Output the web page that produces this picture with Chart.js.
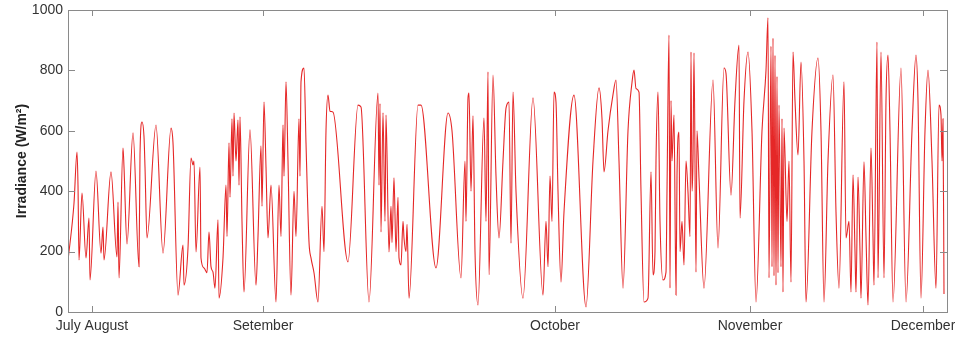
<!DOCTYPE html>
<html>
<head>
<meta charset="utf-8">
<script src="https://cdn.jsdelivr.net/npm/chart.js@4.4.1/dist/chart.umd.min.js"></script>
<style>
  html, body { margin: 0; padding: 0; background: #fff; }
  #wrap { width: 955px; height: 340px; }
</style>
</head>
<body>
<div id="wrap"><canvas id="Chart" width="955" height="340"></canvas></div>
<script>
// time axis in days from start of record, irradiance in W/m2
var days = [
  0.0, 0.6, 0.9, 1.0, 1.1, 1.4, 1.8, 2.1, 2.2, 2.8, 3.3, 3.5, 3.6, 4.3, 4.9, 5.0, 5.1, 5.5, 5.6, 5.9,
  6.5, 7.1, 7.2, 7.4, 7.6, 7.7, 7.9, 8.8, 9.5, 10.3, 10.5, 11.0, 11.5, 11.6, 12.0, 12.3, 12.5, 12.6, 12.8, 13.2,
  13.3, 13.6, 13.9, 14.1, 14.3, 14.5, 14.7, 15.0, 15.1, 15.5, 15.8, 15.9, 16.1, 16.2, 16.4, 16.5, 16.6, 16.8, 17.0, 17.1,
  17.2, 17.4, 17.6, 18.2, 18.8, 19.0, 19.3, 19.4, 19.6, 19.8, 20.0, 20.3, 20.8, 21.1, 21.3, 21.5, 21.6, 21.8, 22.0, 22.3,
  22.6, 22.8, 23.1, 23.2, 23.3, 23.6, 23.8, 24.1, 24.3, 24.6, 25.0, 25.4, 25.6, 25.8, 26.0, 26.2, 26.5, 28.0, 29.0, 29.3,
  30.1, 31.0, 31.1, 31.2, 31.3, 31.5, 31.7, 31.8, 32.1, 32.3, 32.4, 32.6, 32.8, 33.0, 33.1, 33.3, 33.5, 33.6, 33.8, 33.9,
  34.1, 35.0, 35.3, 36.8, 38.0, 38.4, 39.3, 39.7, 39.8, 40.0, 40.1, 40.3, 40.5, 40.7, 41.0, 41.6, 41.8, 42.0, 42.1, 42.5,
  42.8, 43.1, 43.5, 43.8, 44.1, 44.3, 44.5, 44.8, 45.5, 46.5, 47.5, 47.8, 48.0, 48.2, 48.4, 48.6, 48.8, 49.0, 49.3, 49.6,
  50.6, 51.8, 52.5, 53.1, 53.4, 53.6, 54.0, 54.5, 54.8, 55.1, 55.5, 56.0, 56.4, 56.6, 56.8, 57.1, 57.3, 57.6, 58.0, 58.3,
  58.5, 58.7, 58.8, 59.0, 59.2, 59.5, 59.8, 59.9, 60.1, 60.2, 60.3, 60.4, 60.6, 60.8, 60.9, 61.1, 61.2, 61.4, 61.6, 61.8,
  62.0, 62.2, 62.3, 62.4, 62.5, 62.6, 62.8, 62.9, 63.1, 63.6, 64.5, 65.0, 65.6, 65.8, 66.3, 66.7, 67.1, 67.2, 67.6, 68.0,
  68.4, 68.8, 69.4, 69.8, 70.0, 70.1, 70.3, 70.4, 70.5, 70.6, 70.7, 70.8, 70.9, 71.0, 71.1, 71.3, 71.4, 71.5, 71.6, 71.9,
  72.1, 72.3, 72.5, 72.7, 73.0, 73.3, 73.6, 73.8, 74.4, 75.0, 75.3, 75.6, 76.0, 76.5, 76.8, 77.1, 77.6, 77.8, 78.1, 78.3,
  78.5, 78.7, 78.8, 79.0, 79.2, 79.3, 79.6, 79.8, 80.0, 80.3, 80.5, 80.6, 80.9, 81.0, 81.3, 81.6, 81.8, 82.0, 82.2, 82.5,
  83.3, 83.8, 84.4, 84.8, 85.0, 85.3, 85.7, 86.0, 86.4, 86.8, 87.1, 87.3, 87.4, 87.5, 87.6
];
var irradiance = [
  170, 360, 530, 420, 172, 394, 179, 311, 106, 467, 195, 281, 172, 464, 182, 364, 113, 543, 480, 225,
  593, 150, 520, 629, 580, 480, 245, 619, 195, 609, 560, 56, 222, 89, 212, 510, 487, 500, 199, 480,
  179, 146, 130, 265, 150, 132, 79, 305, 46, 179, 420, 250, 560, 380, 640, 450, 659, 500, 636, 420,
  646, 300, 66, 603, 89, 250, 550, 350, 695, 480, 245, 420, 33, 420, 250, 620, 450, 762, 500, 56,
  400, 250, 640, 450, 762, 808, 560, 232, 179, 130, 33, 350, 200, 600, 718, 665, 662, 166, 685, 679,
  33, 725, 420, 690, 265, 660, 300, 652, 199, 350, 230, 444, 200, 380, 180, 156, 300, 245, 200, 290,
  46, 685, 685, 146, 659, 600, 113, 500, 300, 709, 725, 400, 650, 200, 23, 642, 300, 795, 123, 785,
  450, 245, 500, 675, 695, 228, 728, 400, 46, 709, 56, 300, 150, 450, 300, 728, 695, 400, 99, 331,
  718, 17, 500, 742, 640, 464, 600, 720, 768, 500, 79, 600, 760, 801, 740, 728, 400, 33, 46, 464,
  123, 200, 500, 728, 300, 106, 132, 400, 917, 79, 700, 500, 652, 56, 450, 596, 200, 300, 156, 500,
  397, 250, 861, 400, 500, 858, 132, 600, 444, 79, 768, 212, 808, 790, 387, 700, 884, 311, 700, 861,
  600, 33, 600, 800, 974, 113, 880, 150, 907, 120, 850, 89, 780, 130, 685, 150, 640, 66, 609, 300,
  500, 99, 861, 700, 520, 828, 500, 33, 600, 841, 600, 33, 500, 785, 331, 79, 762, 245, 300, 66,
  454, 200, 66, 447, 200, 46, 497, 250, 23, 543, 250, 89, 894, 113, 861, 113, 700, 851, 600, 33,
  808, 33, 600, 851, 700, 46, 600, 801, 500, 79, 685, 652, 500, 640, 60
];
var monthDays = [2.4, 19.5, 48.7, 68.2, 85.5];
var monthLabels = ['July August', 'Setember', 'October', 'November', 'December'];
var yTicks = [0, 200, 400, 600, 800, 1000];

var points = [];
for (var i = 0; i < days.length; i++) {
  points.push({x: days[i], y: irradiance[i]});
}

// matlab-like box with ticks pointing inward
var boxTicks = {
  id: 'boxTicks',
  afterDraw: function(chart) {
    var c = chart.ctx, a = chart.chartArea;
    var xs = chart.scales.x, ys = chart.scales.y;
    c.save();
    c.strokeStyle = '#8a8a8a';
    c.lineWidth = 1;
    c.strokeRect(Math.round(a.left) + 0.5, Math.round(a.top) + 0.5, Math.round(a.right - a.left), Math.round(a.bottom - a.top));
    c.beginPath();
    for (var i = 0; i < monthDays.length; i++) {
      var px = Math.round(xs.getPixelForValue(monthDays[i])) + 0.5;
      c.moveTo(px, a.bottom); c.lineTo(px, a.bottom - 6);
      c.moveTo(px, a.top); c.lineTo(px, a.top + 6);
    }
    for (var j = 0; j < yTicks.length; j++) {
      var py = Math.round(ys.getPixelForValue(yTicks[j])) + 0.5;
      c.moveTo(a.left, py); c.lineTo(a.left + 7, py);
      c.moveTo(a.right, py); c.lineTo(a.right - 7, py);
    }
    c.stroke();
    c.restore();
  }
};

var ctx = document.getElementById('Chart').getContext('2d');
var myChart = new Chart(ctx, {
  type: 'line',
  data: {
    datasets: [{
      label: 'Irradiance',
      data: points,
      borderColor: 'rgba(226, 16, 16, 0.9)',
      borderWidth: 1.1,
      pointRadius: 0,
      fill: false,
      cubicInterpolationMode: 'monotone'
    }]
  },
  options: {
    responsive: false,
    animation: false,
    layout: { padding: { top: 10, right: 8, left: 0, bottom: 0 } },
    plugins: { legend: { display: false }, tooltip: { enabled: false } },
    scales: {
      x: {
        type: 'linear',
        min: 0,
        max: 87.9,
        grid: { display: false, drawTicks: false },
        border: { display: false },
        afterBuildTicks: function(scale) {
          scale.ticks = monthDays.map(function(v) { return {value: v}; });
        },
        afterFit: function(scale) {
          scale.height = 28;
          scale.paddingLeft = 0;
          scale.paddingRight = 0;
        },
        ticks: {
          autoSkip: false,
          maxRotation: 0,
          padding: 6,
          color: '#333',
          font: { family: 'Liberation Sans, Arial, sans-serif', size: 14 },
          callback: function(v) {
            var k = monthDays.indexOf(v);
            return k >= 0 ? monthLabels[k] : '';
          }
        }
      },
      y: {
        min: 0,
        max: 1000,
        grid: { display: false, drawTicks: false },
        border: { display: false },
        afterBuildTicks: function(scale) {
          scale.ticks = yTicks.map(function(v) { return {value: v}; });
        },
        afterFit: function(scale) {
          scale.width = 68;
          scale.paddingTop = 0;
          scale.paddingBottom = 0;
        },
        ticks: {
          padding: 5,
          color: '#333',
          font: { family: 'Liberation Sans, Arial, sans-serif', size: 14 },
          callback: function(v) { return String(v); }
        },
        title: {
          display: true,
          text: 'Irradiance (W/m²)',
          color: '#222',
          padding: { top: 14, bottom: 0 },
          font: { family: 'Liberation Sans, Arial, sans-serif', size: 14, weight: 'bold' }
        }
      }
    }
  },
  plugins: [boxTicks]
});
</script>
</body>
</html>
